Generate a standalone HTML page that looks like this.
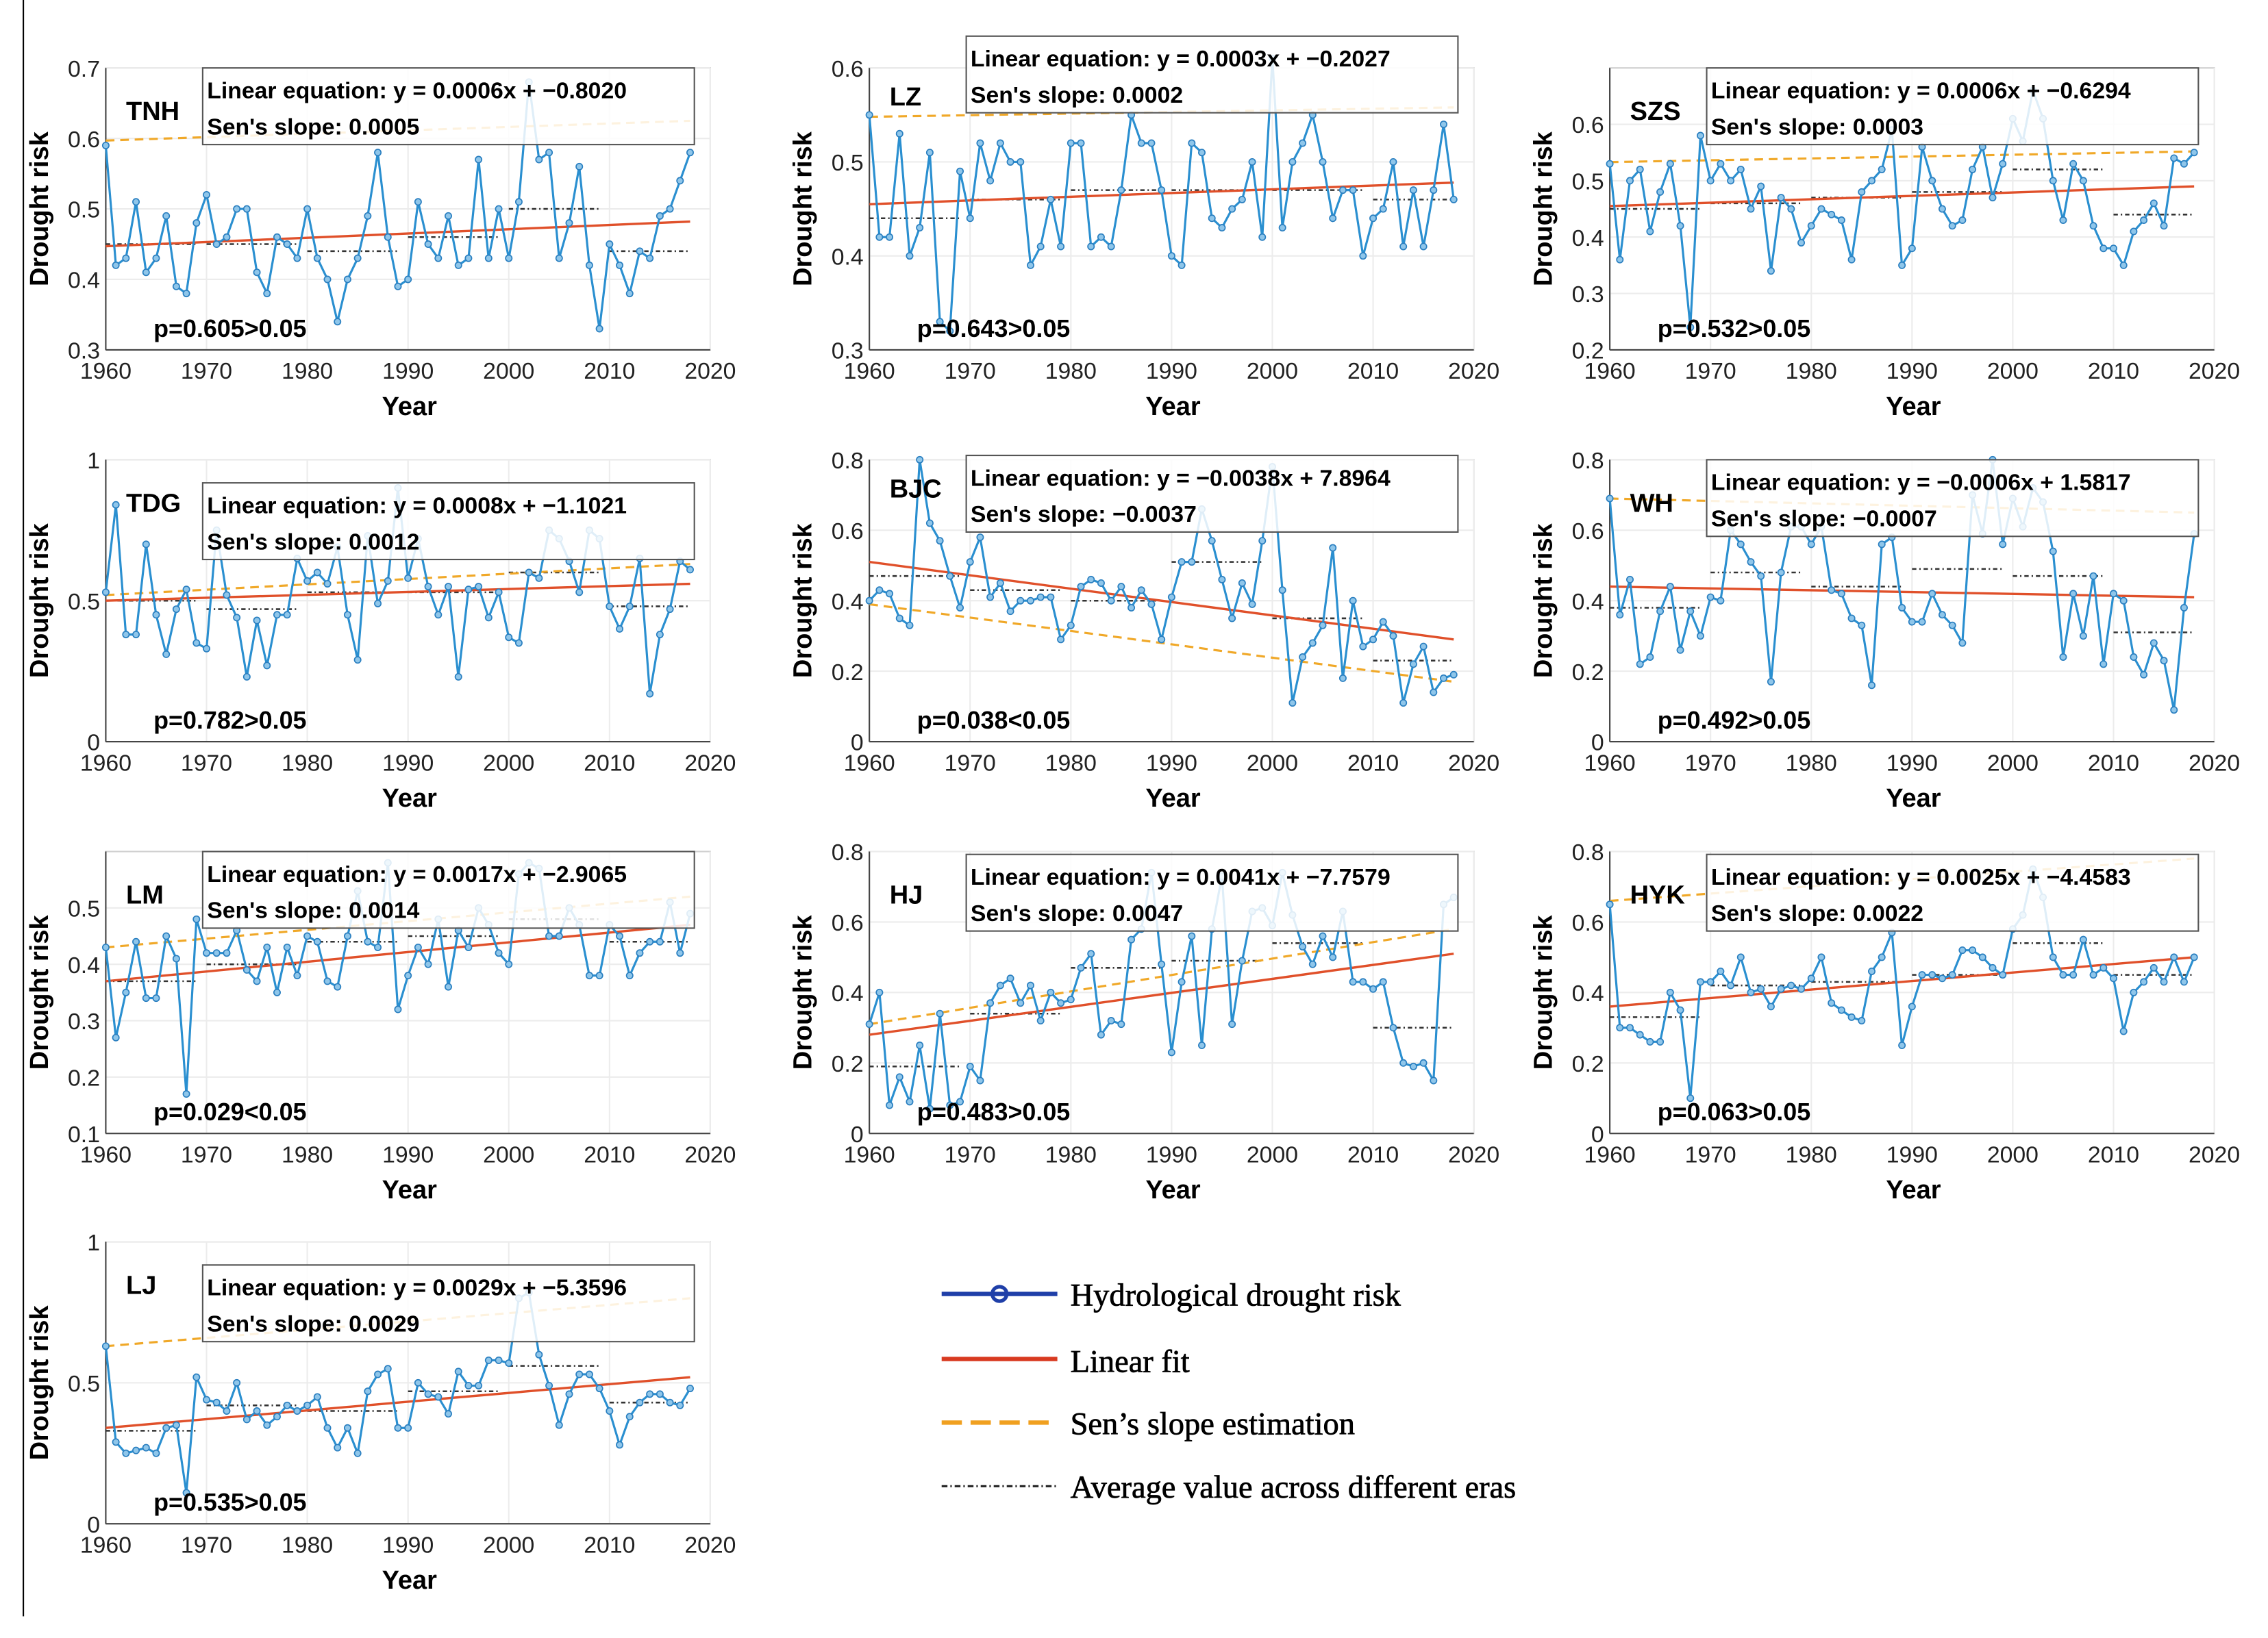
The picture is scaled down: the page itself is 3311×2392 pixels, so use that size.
<!DOCTYPE html>
<html><head><meta charset="utf-8"><style>
html,body{margin:0;padding:0;background:#fff}
svg{display:block}
text{font-family:"Liberation Sans",Arial,sans-serif}
text.serif{font-family:"Liberation Serif","Times New Roman",serif;stroke:#000;stroke-width:0.35}
</style></head><body>
<svg id="fig" width="3311" height="2392" viewBox="0 0 1568 1133" xmlns="http://www.w3.org/2000/svg">
<line x1="16" y1="0" x2="16" y2="1118" stroke="#000" stroke-width="1"/>
<g>
 <g><line x1="651" y1="895" x2="731" y2="895" stroke="#1f3fa8" stroke-width="3"/><circle cx="691" cy="895" r="5" fill="none" stroke="#1f3fa8" stroke-width="2.5"/><text class="serif" x="740" y="903" font-size="22">Hydrological drought risk</text></g>
 <g><line x1="651" y1="940" x2="731" y2="940" stroke="#d83a20" stroke-width="3"/><text class="serif" x="740" y="949" font-size="22">Linear fit</text></g>
 <g><line x1="651" y1="984" x2="731" y2="984" stroke="#f0a020" stroke-width="3" stroke-dasharray="14,6"/><text class="serif" x="740" y="992" font-size="22">Sen’s slope estimation</text></g>
 <g><line x1="651" y1="1028" x2="731" y2="1028" stroke="#222" stroke-width="1.5" stroke-dasharray="4,2,1,2"/><text class="serif" x="740" y="1036" font-size="22">Average value across different eras</text></g>
</g>
</svg>
<script>
const years=[];for(let y=1960;y<=2018;y++)years.push(y);
const xTicks=[1960,1970,1980,1990,2000,2010,2020];
const stationNames=["TNH","LZ","SZS","TDG","BJC","WH","LM","HJ","HYK","LJ"];
const eqTexts=["y = 0.0006x + \u22120.8020","y = 0.0003x + \u22120.2027","y = 0.0006x + \u22120.6294","y = 0.0008x + \u22121.1021","y = \u22120.0038x + 7.8964","y = \u22120.0006x + 1.5817","y = 0.0017x + \u22122.9065","y = 0.0041x + \u22127.7579","y = 0.0025x + \u22124.4583","y = 0.0029x + \u22125.3596"];
const sensTexts=["0.0005","0.0002","0.0003","0.0012","\u22120.0037","\u22120.0007","0.0014","0.0047","0.0022","0.0029"];
const pTexts=["p=0.605>0.05","p=0.643>0.05","p=0.532>0.05","p=0.782>0.05","p=0.038<0.05","p=0.492>0.05","p=0.029<0.05","p=0.483>0.05","p=0.063>0.05","p=0.535>0.05"];
const yMins=[0.3,0.3,0.2,0,0,0,0.1,0,0,0];
const yMaxs=[0.7,0.6,0.7,1,0.8,0.8,0.6,0.8,0.8,1];
const yStepTicks=[[0.3,0.4,0.5,0.6,0.7],[0.3,0.4,0.5,0.6],[0.2,0.3,0.4,0.5,0.6],[0,0.5,1],[0,0.2,0.4,0.6,0.8],[0,0.2,0.4,0.6,0.8],[0.1,0.2,0.3,0.4,0.5],[0,0.2,0.4,0.6,0.8],[0,0.2,0.4,0.6,0.8],[0,0.5,1]];
const risk=[
[0.59,0.42,0.43,0.51,0.41,0.43,0.49,0.39,0.38,0.48,0.52,0.45,0.46,0.50,0.50,0.41,0.38,0.46,0.45,0.43,0.50,0.43,0.40,0.34,0.40,0.43,0.49,0.58,0.46,0.39,0.40,0.51,0.45,0.43,0.49,0.42,0.43,0.57,0.43,0.50,0.43,0.51,0.68,0.57,0.58,0.43,0.48,0.56,0.42,0.33,0.45,0.42,0.38,0.44,0.43,0.49,0.50,0.54,0.58],
[0.55,0.42,0.42,0.53,0.40,0.43,0.51,0.33,0.32,0.49,0.44,0.52,0.48,0.52,0.50,0.50,0.39,0.41,0.46,0.41,0.52,0.52,0.41,0.42,0.41,0.47,0.55,0.52,0.52,0.47,0.40,0.39,0.52,0.51,0.44,0.43,0.45,0.46,0.50,0.42,0.61,0.43,0.50,0.52,0.55,0.50,0.44,0.47,0.47,0.40,0.44,0.45,0.50,0.41,0.47,0.41,0.47,0.54,0.46],
[0.53,0.36,0.50,0.52,0.41,0.48,0.53,0.42,0.24,0.58,0.50,0.53,0.50,0.52,0.45,0.49,0.34,0.47,0.45,0.39,0.42,0.45,0.44,0.43,0.36,0.48,0.50,0.52,0.59,0.35,0.38,0.56,0.50,0.45,0.42,0.43,0.52,0.56,0.47,0.53,0.61,0.57,0.66,0.61,0.50,0.43,0.53,0.50,0.42,0.38,0.38,0.35,0.41,0.43,0.46,0.42,0.54,0.53,0.55],
[0.53,0.84,0.38,0.38,0.70,0.45,0.31,0.47,0.54,0.35,0.33,0.75,0.52,0.44,0.23,0.43,0.27,0.45,0.45,0.65,0.57,0.60,0.56,0.69,0.45,0.29,0.73,0.49,0.57,0.90,0.58,0.72,0.55,0.45,0.55,0.23,0.54,0.55,0.44,0.53,0.37,0.35,0.60,0.58,0.75,0.72,0.64,0.53,0.75,0.72,0.48,0.40,0.48,0.65,0.17,0.38,0.47,0.64,0.61],
[0.40,0.43,0.42,0.35,0.33,0.80,0.62,0.57,0.47,0.38,0.51,0.58,0.41,0.45,0.37,0.40,0.40,0.41,0.41,0.29,0.33,0.44,0.46,0.45,0.40,0.44,0.38,0.43,0.39,0.29,0.41,0.51,0.51,0.66,0.57,0.46,0.35,0.45,0.39,0.57,0.78,0.43,0.11,0.24,0.28,0.33,0.55,0.18,0.40,0.27,0.29,0.34,0.30,0.11,0.22,0.27,0.14,0.18,0.19],
[0.69,0.36,0.46,0.22,0.24,0.37,0.44,0.26,0.37,0.30,0.41,0.40,0.60,0.56,0.51,0.47,0.17,0.48,0.61,0.61,0.56,0.61,0.43,0.42,0.35,0.33,0.16,0.56,0.58,0.38,0.34,0.34,0.42,0.36,0.33,0.28,0.70,0.59,0.80,0.56,0.69,0.61,0.72,0.68,0.54,0.24,0.42,0.30,0.47,0.22,0.42,0.40,0.24,0.19,0.28,0.23,0.09,0.38,0.59],
[0.43,0.27,0.35,0.44,0.34,0.34,0.45,0.41,0.17,0.48,0.42,0.42,0.42,0.46,0.39,0.37,0.43,0.35,0.43,0.38,0.45,0.44,0.37,0.36,0.45,0.53,0.44,0.43,0.58,0.32,0.38,0.43,0.40,0.48,0.36,0.46,0.43,0.50,0.47,0.42,0.40,0.56,0.58,0.57,0.45,0.45,0.50,0.47,0.38,0.38,0.47,0.45,0.38,0.42,0.44,0.44,0.51,0.42,0.49],
[0.31,0.40,0.08,0.16,0.09,0.25,0.07,0.34,0.08,0.09,0.19,0.15,0.37,0.42,0.44,0.37,0.42,0.32,0.40,0.37,0.38,0.47,0.51,0.28,0.32,0.31,0.55,0.58,0.74,0.48,0.23,0.43,0.56,0.25,0.58,0.73,0.31,0.49,0.63,0.64,0.59,0.74,0.62,0.53,0.48,0.56,0.50,0.63,0.43,0.43,0.41,0.43,0.30,0.20,0.19,0.20,0.15,0.65,0.67],
[0.65,0.30,0.30,0.28,0.26,0.26,0.40,0.35,0.10,0.43,0.43,0.46,0.42,0.50,0.40,0.41,0.36,0.41,0.42,0.41,0.44,0.50,0.37,0.35,0.33,0.32,0.46,0.50,0.57,0.25,0.36,0.45,0.45,0.44,0.45,0.52,0.52,0.50,0.47,0.45,0.58,0.62,0.75,0.67,0.50,0.45,0.45,0.55,0.45,0.47,0.44,0.29,0.40,0.43,0.47,0.43,0.50,0.43,0.50],
[0.63,0.29,0.25,0.26,0.27,0.25,0.34,0.35,0.11,0.52,0.44,0.43,0.40,0.50,0.37,0.40,0.35,0.38,0.42,0.40,0.42,0.45,0.34,0.27,0.34,0.25,0.47,0.53,0.55,0.34,0.34,0.50,0.46,0.45,0.39,0.54,0.49,0.49,0.58,0.58,0.57,0.80,0.82,0.60,0.49,0.35,0.46,0.53,0.53,0.48,0.40,0.28,0.38,0.43,0.46,0.46,0.43,0.42,0.48]];
const fitStart=[0.447,0.455,0.455,0.50,0.51,0.44,0.37,0.28,0.36,0.34];
const fitEnd=[0.482,0.478,0.49,0.56,0.29,0.41,0.47,0.51,0.50,0.52];
const sensStart=[0.597,0.548,0.533,0.52,0.39,0.69,0.43,0.31,0.66,0.63];
const sensEnd=[0.625,0.558,0.552,0.63,0.17,0.65,0.52,0.58,0.78,0.80];
const eraStarts=[1960,1970,1980,1990,2000,2010];
const eraEnds=[1969,1979,1989,1999,2009,2018];
const eraAvg=[[0.45,0.45,0.44,0.46,0.50,0.44],[0.44,0.46,0.47,0.47,0.47,0.46],[0.45,0.46,0.47,0.48,0.52,0.44],[0.50,0.47,0.53,0.53,0.60,0.48],[0.47,0.43,0.40,0.51,0.35,0.23],[0.38,0.48,0.44,0.49,0.47,0.31],[0.37,0.40,0.44,0.45,0.48,0.44],[0.19,0.34,0.47,0.49,0.54,0.30],[0.33,0.42,0.43,0.45,0.54,0.45],[0.33,0.42,0.40,0.47,0.56,0.43]];
const pX=[73,601,1113,73,601,1113,73,601,1113,73];
const pY=[47,47,47,318,318,318,589,589,589,859];
const boxDY=[0,-22,0,16,-3,0,0,2,2,16];
const W=418,H=195;
const NS="http://www.w3.org/2000/svg";
const svg=document.getElementById('fig');
function el(tag,attrs,parent){const e=document.createElementNS(NS,tag);for(const k in attrs)e.setAttribute(k,attrs[k]);parent.appendChild(e);return e;}
function fmt(v){return (Math.round(v*10)/10).toString();}
for(let i=0;i<10;i++){
 const x0=pX[i],y0=pY[i],ymin=yMins[i],ymax=yMaxs[i];
 const sx=y=>x0+(y-1960)/60*W;
 const sy=v=>y0+H-(v-ymin)/(ymax-ymin)*H;
 const g=el('g',{},svg);
 
 
 el('rect',{x:x0,y:y0,width:W,height:H,fill:'#fff',stroke:'#d0d0d0','stroke-width':1},g);
 xTicks.forEach(t=>{el('line',{x1:sx(t),y1:y0,x2:sx(t),y2:y0+H,stroke:'#ececec','stroke-width':1},g);
  const tx=el('text',{x:sx(t),y:y0+H+20,'font-size':16,'text-anchor':'middle',fill:'#222'},g);tx.textContent=t;
  
  });
 yStepTicks[i].forEach(t=>{el('line',{x1:x0,y1:sy(t),x2:x0+W,y2:sy(t),stroke:'#ececec','stroke-width':1},g);
  const tx=el('text',{x:x0-4,y:sy(t)+6,'font-size':16,'text-anchor':'end',fill:'#222'},g);tx.textContent=fmt(t);
  
  });
 el('line',{x1:x0,y1:y0,x2:x0,y2:y0+H,stroke:'#444','stroke-width':1},g);
 el('line',{x1:x0,y1:y0+H,x2:x0+W,y2:y0+H,stroke:'#444','stroke-width':1},g);
 const xl=el('text',{x:x0+210,y:y0+H+45,'font-size':18,'font-weight':'bold','text-anchor':'middle'},g);xl.textContent='Year';
 
 
 const yl=el('text',{x:0,y:0,'font-size':18,'font-weight':'bold','text-anchor':'middle',transform:`translate(${x0-40},${y0+H/2}) rotate(-90)`},g);yl.textContent='Drought risk';
 
 
 for(let k=0;k<6;k++){const l=el('line',{x1:sx(eraStarts[k]),x2:sx(eraEnds[k]),y1:sy(eraAvg[i][k]),y2:sy(eraAvg[i][k]),stroke:'#333','stroke-width':1.2,'stroke-dasharray':'3,2,1,2'},g);
  
  }
 const sl=el('line',{x1:sx(1960),x2:sx(2018),y1:sy(sensStart[i]),y2:sy(sensEnd[i]),stroke:'#f0a828','stroke-width':1.5,'stroke-dasharray':'6,4'},g);
 
 
 const fl=el('line',{x1:sx(1960),x2:sx(2018),y1:sy(fitStart[i]),y2:sy(fitEnd[i]),stroke:'#e0502a','stroke-width':1.6},g);
 
 
 const pts=risk[i].map((v,k)=>sx(years[k]).toFixed(1)+','+sy(v).toFixed(1)).join(' ');
 const pl=el('polyline',{points:pts,fill:'none',stroke:'#2a8fd0','stroke-width':1.5},g);
 
 
 risk[i].forEach((v,k)=>{const c=el('circle',{cx:sx(years[k]),cy:sy(v),r:2.2,fill:'#8fc6ea',stroke:'#2a7fc0','stroke-width':0.8},g);
  
  });
 const by=y0+boxDY[i];
 const bx=el('rect',{x:x0+67,y:by,width:340,height:53,fill:'#fff','fill-opacity':0.85,stroke:'#555','stroke-width':1},g);
 
 
 const t1=el('text',{x:x0+70,y:by+21,'font-size':16,'font-weight':'bold'},g);t1.textContent='Linear equation: '+eqTexts[i];
 
 
 const t2=el('text',{x:x0+70,y:by+46,'font-size':16,'font-weight':'bold'},g);t2.textContent="Sen's slope: "+sensTexts[i];
 
 
 const st=el('text',{x:x0+14,y:y0+36+(i==1?-10:0)+(i==4?-10:0),'font-size':18,'font-weight':'bold'},g);st.textContent=stationNames[i];
 
 
 const pt=el('text',{x:x0+33,y:y0+H-9,'font-size':17,'font-weight':'bold'},g);pt.textContent=pTexts[i];
 
 
}
</script>
</body></html>
